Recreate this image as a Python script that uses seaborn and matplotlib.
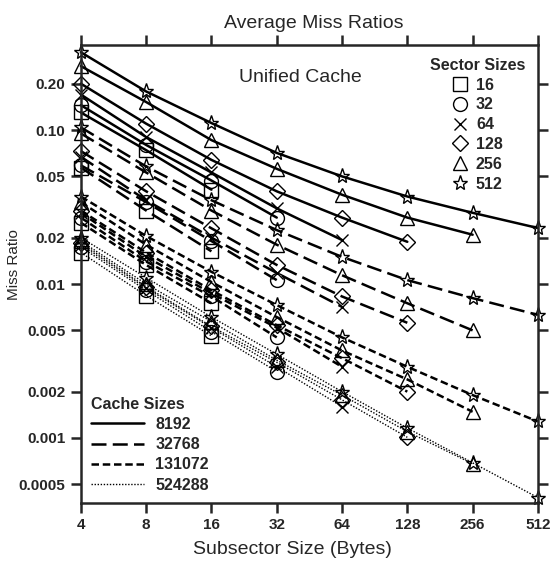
import matplotlib
matplotlib.use("Agg")
import matplotlib.pyplot as plt
from matplotlib.lines import Line2D
from matplotlib.ticker import FixedLocator, NullLocator
import pandas as pd
import seaborn as sns

subsector = [4, 8, 16, 32, 64, 128, 256, 512]
sector_sizes = [16, 32, 64, 128, 256, 512]
cache_sizes = [8192, 32768, 131072, 524288]

# miss ratios per sector size (rows follow sector_sizes), one list per cache size
miss_8192 = [
    [0.13, 0.074, 0.041],
    [0.145, 0.080, 0.047, 0.027],
    [0.17, 0.090, 0.053, 0.031, 0.0193],
    [0.20, 0.11, 0.064, 0.040, 0.027, 0.0188],
    [0.26, 0.152, 0.086, 0.056, 0.038, 0.027, 0.0209],
    [0.32, 0.178, 0.111, 0.071, 0.050, 0.037, 0.029, 0.0231],
]
miss_32768 = [
    [0.057, 0.030, 0.0163],
    [0.059, 0.034, 0.019, 0.0106],
    [0.067, 0.035, 0.020, 0.0118, 0.0071],
    [0.073, 0.040, 0.023, 0.0133, 0.0083, 0.0056],
    [0.095, 0.053, 0.030, 0.018, 0.0114, 0.0075, 0.0050],
    [0.104, 0.058, 0.035, 0.0224, 0.0150, 0.0106, 0.0081, 0.0063],
]
miss_131072 = [
    [0.025, 0.0133, 0.0075],
    [0.027, 0.014, 0.0083, 0.0045],
    [0.029, 0.015, 0.0087, 0.0052, 0.0029],
    [0.030, 0.016, 0.0091, 0.0054, 0.0033, 0.0020],
    [0.034, 0.018, 0.0103, 0.0061, 0.0037, 0.0024, 0.00148],
    [0.037, 0.0205, 0.0120, 0.0073, 0.0045, 0.0029, 0.0019, 0.00128],
]
miss_524288 = [
    [0.016, 0.0084, 0.0046],
    [0.0174, 0.0091, 0.0049, 0.0027],
    [0.018, 0.0094, 0.0052, 0.0029, 0.0016],
    [0.0185, 0.0096, 0.0053, 0.0031, 0.00177, 0.00101],
    [0.019, 0.010, 0.0057, 0.0032, 0.0019, 0.00110, 0.00068],
    [0.020, 0.011, 0.0061, 0.0035, 0.0020, 0.00116, 0.00069, 0.00041],
]

ytick_vals = [0.0005, 0.001, 0.002, 0.005, 0.01, 0.02, 0.05, 0.10, 0.20]
ytick_labels = ["0.0005", "0.001", "0.002", "0.005", "0.01", "0.02", "0.05", "0.10", "0.20"]

all_miss = [miss_8192, miss_32768, miss_131072, miss_524288]
rows = []
for cache, table in zip(cache_sizes, all_miss):
    for sector, vals in zip(sector_sizes, table):
        for xs, v in zip(subsector, vals):
            rows.append({"cache": cache, "sector": sector, "subsector": xs, "miss": v})
df = pd.DataFrame(rows)

sns.set_style("ticks")
plt.rcParams["font.family"] = ["Liberation Sans", "DejaVu Sans"]

line_styles = {8192: "-", 32768: (0, (6, 2.5)), 131072: (0, (3, 1.5)), 524288: (0, (1, 1.2))}
line_widths = {8192: 1.8, 32768: 1.8, 131072: 1.8, 524288: 1.0}
markers = {16: "s", 32: "o", 64: "x", 128: "D", 256: "^", 512: "*"}
msizes = {16: 10, 32: 10, 64: 9, 128: 8, 256: 10, 512: 11}

fig = plt.figure(figsize=(5.5, 5.71), dpi=100)
ax = fig.add_axes([0.147, 0.119, 0.831, 0.802])

for (cache, sector), g in df.groupby(["cache", "sector"]):
    sns.lineplot(data=g, x="subsector", y="miss", ax=ax, color="black",
                 linestyle=line_styles[cache], linewidth=line_widths[cache],
                 marker=markers[sector], markersize=msizes[sector],
                 markerfacecolor="none", markeredgecolor="black", markeredgewidth=1.0,
                 clip_on=False, legend=False)

ax.set_xscale("log", base=2)
ax.set_yscale("log")
ax.set_xlim(4, 512)
ax.set_ylim(0.000378, 0.356)
ax.xaxis.set_major_locator(FixedLocator(subsector))
ax.set_xticklabels([str(v) for v in subsector], fontweight="bold", fontsize=11)
ax.xaxis.set_minor_locator(NullLocator())
ax.yaxis.set_major_locator(FixedLocator(ytick_vals))
ax.set_yticklabels(ytick_labels, fontweight="bold", fontsize=11)
ax.yaxis.set_minor_locator(NullLocator())
ax.tick_params(direction="out", length=7, width=1.8, top=True, right=True,
               labeltop=False, labelright=False, pad=4)
for s in ax.spines.values():
    s.set_linewidth(1.8)

ax.set_xlabel("Subsector Size (Bytes)", fontsize=14)
ax.xaxis.set_label_coords(0.464, -0.083)
ax.set_ylabel("Miss Ratio", fontsize=11)
ax.yaxis.set_label_coords(-0.13, 0.52)
ax.set_title("Average Miss Ratios", fontsize=14, pad=12, x=0.51)
ax.text(0.48, 0.92, "Unified Cache", transform=ax.transAxes, fontsize=14, ha="center")

sector_handles = [Line2D([], [], color="black", linestyle="none", marker=markers[s],
                         markersize=msizes[s], markerfacecolor="none", markeredgewidth=1.0)
                  for s in sector_sizes]
leg1 = ax.legend(sector_handles, [str(s) for s in sector_sizes], title="Sector Sizes",
                 loc="upper right", bbox_to_anchor=(1.0, 1.0), frameon=False,
                 prop={"weight": "bold", "size": 11.5}, handlelength=1.0,
                 handletextpad=0.5, labelspacing=0.3, borderpad=0.3)
leg1.get_title().set_fontweight("bold")
leg1.get_title().set_fontsize(11.5)
ax.add_artist(leg1)

cache_handles = [Line2D([], [], color="black", linestyle=line_styles[c], linewidth=line_widths[c])
                 for c in cache_sizes]
leg2 = ax.legend(cache_handles, [str(c) for c in cache_sizes], title="Cache Sizes",
                 loc="lower left", bbox_to_anchor=(0.0, 0.0), frameon=False,
                 prop={"weight": "bold", "size": 11.5}, handlelength=3.3,
                 handletextpad=0.7, labelspacing=0.33, borderpad=0.15)
leg2.get_title().set_fontweight("bold")
leg2.get_title().set_fontsize(11.5)
leg2._legend_box.align = "left"

fig.savefig("out.png", dpi=100)
